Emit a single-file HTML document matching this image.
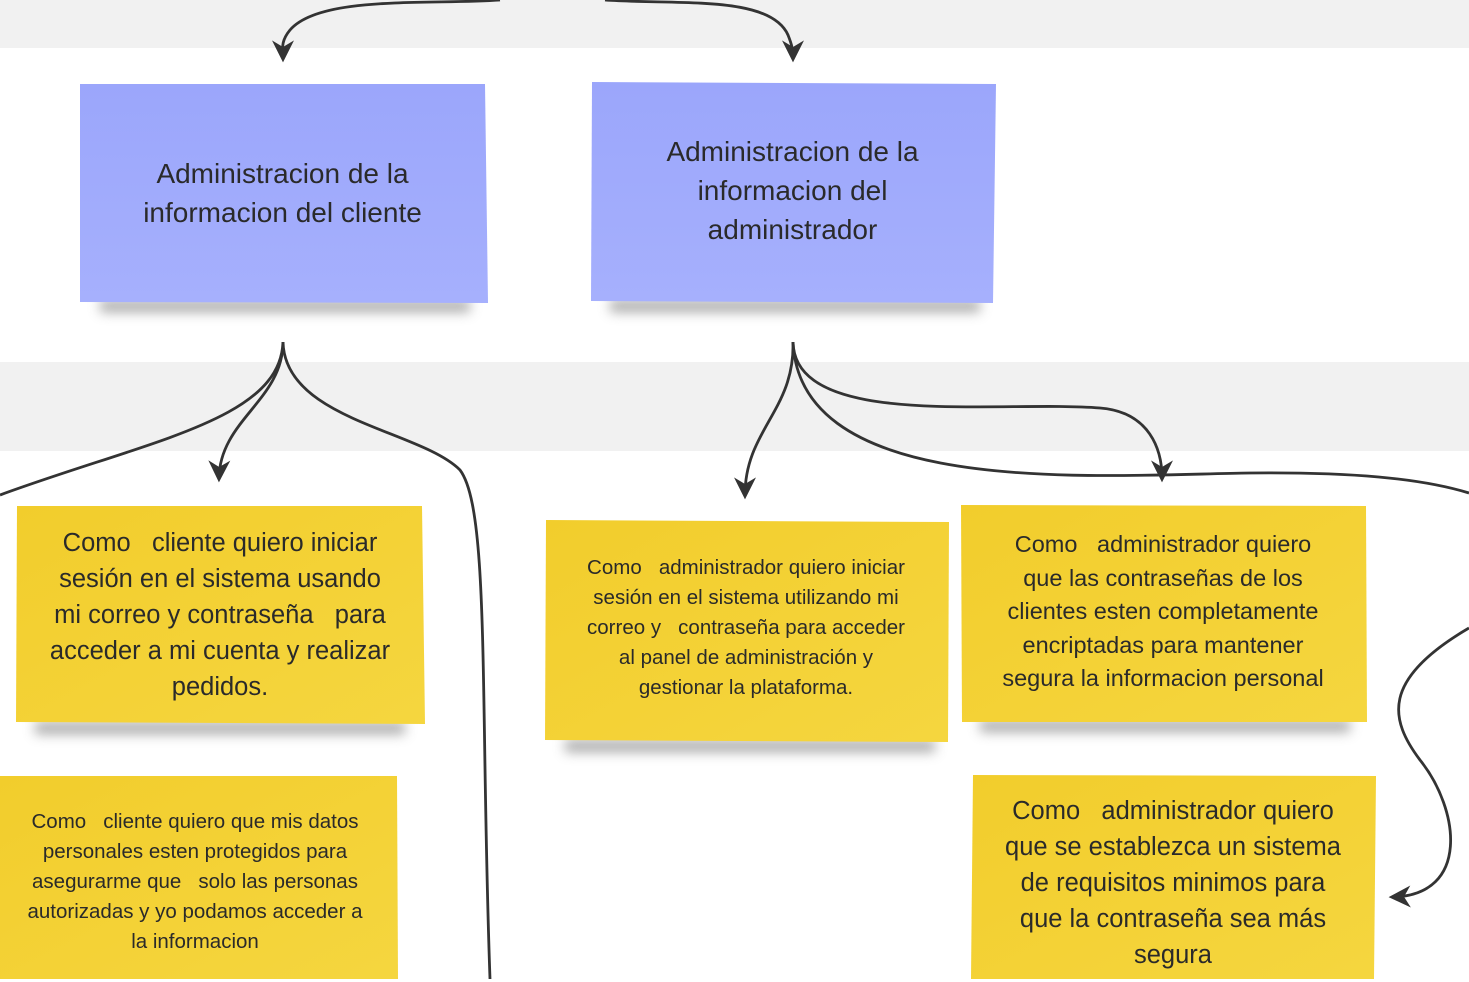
<!DOCTYPE html>
<html><head><meta charset="utf-8"><style>
html,body{margin:0;padding:0;background:#fff;}
body{width:1469px;height:979px;overflow:hidden;position:relative;font-family:"Liberation Sans",sans-serif;}
.t{position:absolute;display:flex;align-items:center;justify-content:center;text-align:center;color:#2a2a2a;}
</style></head><body>
<svg width="1469" height="979" style="position:absolute;left:0;top:0">
<defs>
<linearGradient id="b" x1="0" y1="0" x2="0" y2="1"><stop offset="0" stop-color="#9ba6fb"/><stop offset="1" stop-color="#a6b0fd"/></linearGradient>
<linearGradient id="y" x1="0" y1="0" x2="1" y2="1"><stop offset="0" stop-color="#f2cd2c"/><stop offset="1" stop-color="#f5d63f"/></linearGradient>
<filter id="s" x="-20%" y="-200%" width="140%" height="500%"><feGaussianBlur stdDeviation="6"/></filter>
<marker id="a" markerWidth="22" markerHeight="22" refX="8" refY="5" orient="auto" markerUnits="userSpaceOnUse" viewBox="0 0 10 10"><path d="M0,0 L10,5 L0,10 L3,5 z" fill="#333"/></marker>
</defs>
<rect x="0" y="0" width="1469" height="48" fill="#f1f1f1"/>
<rect x="0" y="362" width="1469" height="89" fill="#f1f1f1"/>
<g fill="#555" opacity="0.5" filter="url(#s)">
<rect x="100" y="300" width="370" height="12"/>
<rect x="610" y="300" width="370" height="12"/>
<rect x="35" y="722" width="370" height="12"/>
<rect x="565" y="740" width="370" height="12"/>
<rect x="980" y="720" width="370" height="12"/>
</g>
<polygon points="80,84 485,84 488,303 80,302" fill="url(#b)"/>
<polygon points="592,82 996,84 993,303 591,301" fill="url(#b)"/>
<polygon points="17,506 422,506 425,724 16,722" fill="url(#y)"/>
<polygon points="546,520 949,522 948,742 545,740" fill="url(#y)"/>
<polygon points="961,505 1366,506 1367,722 962,722" fill="url(#y)"/>
<polygon points="0,776 397,776 398,979 0,979" fill="url(#y)"/>
<polygon points="973,775 1376,776 1374,979 971,979" fill="url(#y)"/>
<g fill="none" stroke="#333" stroke-width="2.8">
<path d="M500,0 C430,5 320,-5 290,30 C280,42 283,50 283,58" marker-end="url(#a)"/>
<path d="M605,0 C680,5 770,-5 788,35 C792,45 793,50 793,58" marker-end="url(#a)"/>
<path d="M283,342 C283,400 220,420 219,478" marker-end="url(#a)"/>
<path d="M283,342 C280,420 150,440 0,495"/>
<path d="M283,342 C285,420 420,430 460,470 C490,510 480,700 490,979"/>
<path d="M793,342 C795,410 745,430 745,495" marker-end="url(#a)"/>
<path d="M793,342 C795,430 1000,400 1100,408 C1150,412 1162,450 1162,478" marker-end="url(#a)"/>
<path d="M793,342 C800,500 1100,475 1250,473 C1350,472 1420,478 1469,493"/>
<path d="M1469,628 C1380,680 1390,720 1420,760 C1460,810 1470,895 1393,897" marker-end="url(#a)"/>
</g>
</svg>
<div class="t" style="left:85px;top:90px;width:395px;height:205px;font-size:28px;line-height:39px">Administracion de la<br>informacion del cliente</div>
<div class="t" style="left:595px;top:90px;width:395px;height:200px;font-size:28px;line-height:39px">Administracion de la<br>informacion del<br>administrador</div>
<div class="t" style="left:18px;top:515px;width:404px;height:200px;font-size:25.5px;line-height:36px">Como &nbsp; cliente quiero iniciar<br>sesión en el sistema usando<br>mi correo y contraseña &nbsp; para<br>acceder a mi cuenta y realizar<br>pedidos.</div>
<div class="t" style="left:546px;top:528px;width:400px;height:200px;font-size:20.5px;line-height:30px">Como &nbsp; administrador quiero iniciar<br>sesión en el sistema utilizando mi<br>correo y &nbsp; contraseña para acceder<br>al panel de administración y<br>gestionar la plataforma.</div>
<div class="t" style="left:961px;top:512px;width:404px;height:200px;font-size:23.5px;line-height:33.5px">Como &nbsp; administrador quiero<br>que las contraseñas de los<br>clientes esten completamente<br>encriptadas para mantener<br>segura la informacion personal</div>
<div class="t" style="left:0px;top:782px;width:390px;height:200px;font-size:20.5px;line-height:30px">Como &nbsp; cliente quiero que mis datos<br>personales esten protegidos para<br>asegurarme que &nbsp; solo las personas<br>autorizadas y yo podamos acceder a<br>la informacion</div>
<div class="t" style="left:971px;top:790px;width:404px;height:185px;font-size:25.5px;line-height:36px">Como &nbsp; administrador quiero<br>que se establezca un sistema<br>de requisitos minimos para<br>que la contraseña sea más<br>segura</div>
</body></html>
